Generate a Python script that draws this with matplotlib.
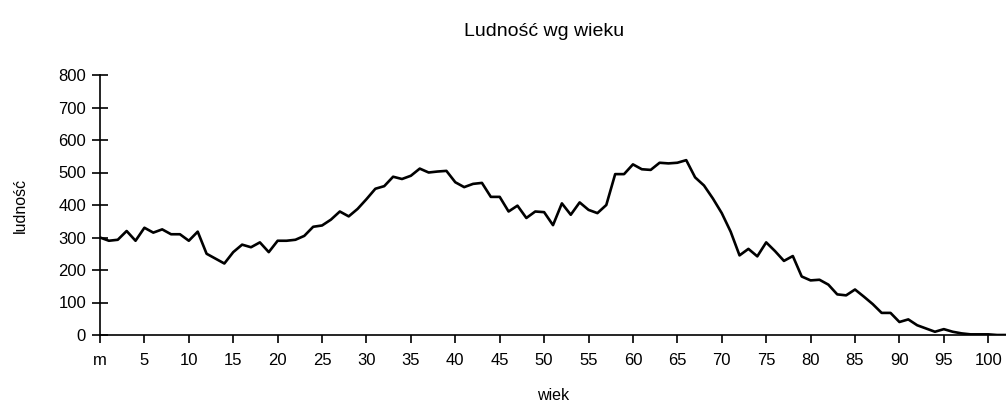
import numpy as np
import matplotlib.pyplot as plt

plt.rcParams['font.family'] = ['Liberation Sans', 'DejaVu Sans']

wiek = list(range(0, 103))
ludnosc = [300, 290, 293, 320, 290, 330, 315, 325, 310, 310,
           290, 318, 250, 235, 220, 255, 278, 270, 285, 255,
           290, 290, 293, 305, 333, 337, 355, 380, 365, 388,
           418, 450, 458, 487, 480, 490, 512, 500, 503, 505,
           470, 455, 465, 468, 425, 425, 380, 398, 360, 380,
           378, 338, 405, 370, 408, 385, 375, 400, 495, 495,
           525, 510, 508, 530, 528, 530, 538, 485, 460, 420,
           375, 318, 245, 265, 242, 285, 258, 228, 243, 180,
           168, 170, 155, 125, 122, 140, 118, 95, 68, 68,
           40, 48, 30, 20, 10, 18, 10, 5, 2, 2,
           2, 0, 0]
tick_pos = list(range(0, 101, 5))
tick_labels = ['m'] + [str(t) for t in tick_pos[1:]]

fig = plt.figure(figsize=(10.06, 4.08), dpi=100)
ax = fig.add_axes([100 / 1006, 73 / 408, 906 / 1006, 260 / 408])
ax.plot(wiek, ludnosc, color='black', linewidth=1.9)

ax.set_xlim(0, 102)
ax.set_ylim(0, 800)
ax.set_yticks(range(0, 801, 100))
ax.set_xticks(tick_pos)
ax.set_xticklabels(tick_labels)

for s in ['top', 'right']:
    ax.spines[s].set_visible(False)
ax.spines['left'].set_linewidth(1.2)
ax.spines['bottom'].set_linewidth(1.2)
ax.tick_params(axis='y', direction='inout', length=12, width=1.2, labelsize=12, pad=4)
ax.tick_params(axis='x', direction='out', length=6, width=1.2, labelsize=12, pad=7)

ax.set_title('Ludność wg wieku', fontsize=14, pad=28, x=0.49)
ax.set_xlabel('wiek', fontsize=11.5, labelpad=14)
ax.set_ylabel('ludność', fontsize=11.5, labelpad=22)

fig.savefig('out.png', dpi=100)
